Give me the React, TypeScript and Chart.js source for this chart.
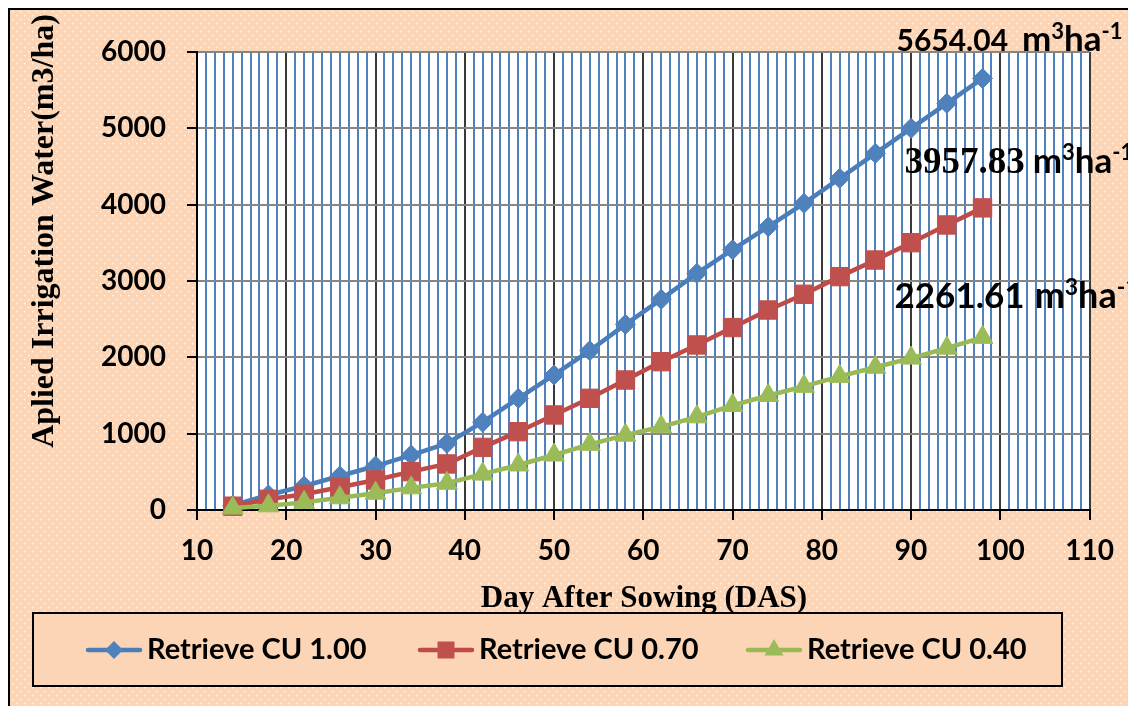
import React, { useEffect, useRef } from 'react';
import { Chart, registerables } from 'chart.js';

Chart.register(...registerables);

// ---- data ----
const days = [14, 18, 22, 26, 30, 34, 38, 42, 46, 50, 54, 58, 62, 66, 70, 74, 78, 82, 86, 90, 94, 98];
const cu100 = [60, 197, 314, 445, 576, 720, 873, 1150, 1463, 1769, 2087, 2432, 2760, 3100, 3410, 3711, 4018, 4345, 4673, 5000, 5328, 5654.04];
const cu070 = [50, 140, 206, 297, 393, 502, 603, 820, 1026, 1245, 1463, 1703, 1943, 2162, 2390, 2620, 2826, 3057, 3275, 3502, 3734, 3957.83];
const cu040 = [25, 55, 100, 160, 220, 290, 350, 470, 590, 720, 860, 980, 1090, 1220, 1370, 1500, 1620, 1750, 1870, 1990, 2120, 2261.61];
const seriesLabels = ['Retrieve CU 1.00', 'Retrieve CU 0.70', 'Retrieve CU 0.40'];
const finalLabels = ['5654.04', '3957.83', '2261.61'];
const xTitle = 'Day After Sowing (DAS)';
const yTitle = 'Aplied Irrigation Water(m3/ha)';

const PEACH = '#FBD5B5';
const SANS = 'Lato, "Open Sans", sans-serif';
const SERIF = '"Liberation Serif", "Times New Roman", serif';

const bgPlugin = {
  id: 'bgPattern',
  beforeDraw(chart: any) {
    const { ctx, width, height, chartArea: a } = chart;
    ctx.save();
    ctx.fillStyle = PEACH;
    ctx.fillRect(0, 0, width, height);
    ctx.fillStyle = 'rgba(255,255,255,0.9)';
    for (let y = 0, r = 0; y < height; y += 4, r++) {
      const off = r % 2 ? 4 : 0;
      for (let x = off; x < width; x += 8) ctx.fillRect(x + 2, y + 1, 1.4, 1.4);
    }
    ctx.fillStyle = '#ffffff';
    ctx.fillRect(a.left, a.top, a.right - a.left, a.bottom - a.top);
    ctx.restore();
  },
};

function drawMarker(ctx: any, style: string, x: number, y: number, r: number, color: string) {
  ctx.fillStyle = color;
  ctx.beginPath();
  if (style === 'rectRot') {
    ctx.moveTo(x, y - r); ctx.lineTo(x + r, y); ctx.lineTo(x, y + r); ctx.lineTo(x - r, y);
  } else if (style === 'rect') {
    const s = r * Math.SQRT1_2;
    ctx.rect(x - s, y - s, 2 * s, 2 * s);
  } else {
    const h = r * Math.sqrt(3) / 2;
    ctx.moveTo(x, y - r); ctx.lineTo(x + h, y + r / 2); ctx.lineTo(x - h, y + r / 2);
  }
  ctx.closePath();
  ctx.fill();
}

function drawValueLabel(ctx: any, x: number, y: number, num: string, numFont: string, numSize: number, unitSize: number, gap: number) {
  ctx.fillStyle = '#000';
  ctx.textAlign = 'left';
  ctx.textBaseline = 'alphabetic';
  ctx.font = `bold ${numSize}px ${numFont}`;
  ctx.fillText(num, x, y);
  let cx = x + ctx.measureText(num).width + gap;
  const small = Math.round(unitSize * 0.64);
  const raise = unitSize * 0.36;
  ctx.font = `bold ${unitSize}px ${SANS}`;
  ctx.fillText('m', cx, y); cx += ctx.measureText('m').width;
  ctx.font = `bold ${small}px ${SANS}`;
  ctx.fillText('3', cx, y - raise); cx += ctx.measureText('3').width;
  ctx.font = `bold ${unitSize}px ${SANS}`;
  ctx.fillText('ha', cx, y); cx += ctx.measureText('ha').width;
  ctx.font = `bold ${small}px ${SANS}`;
  ctx.fillText('-1', cx, y - raise);
}

const annotPlugin = {
  id: 'annotations',
  afterDatasetsDraw(chart: any) {
    const { ctx } = chart;
    const xs = chart.scales.x;
    const ys = chart.scales.y;
    const last = days.length - 1;
    const px = xs.getPixelForValue(days[last]);
    ctx.save();
    drawValueLabel(ctx, px - 86, ys.getPixelForValue(cu100[last]) - 27, finalLabels[0], SANS, 30, 35, 14);
    drawValueLabel(ctx, px - 78, ys.getPixelForValue(cu070[last]) - 35, finalLabels[1], SERIF, 37, 35, 8);
    drawValueLabel(ctx, px - 88, ys.getPixelForValue(cu040[last]) - 29, finalLabels[2], SANS, 35, 36, 10);
    ctx.restore();
  },
  afterDraw(chart: any) {
    const { ctx } = chart;
    ctx.save();
    // axis titles
    ctx.fillStyle = '#000';
    ctx.font = `bold 31px ${SERIF}`;
    ctx.textAlign = 'center';
    ctx.textBaseline = 'alphabetic';
    ctx.fillText(xTitle, 634, 597);
    ctx.translate(35, 221);
    ctx.rotate(-Math.PI / 2);
    ctx.textBaseline = 'middle';
    ctx.font = `bold 32px ${SERIF}`;
    ctx.fillText(yTitle, 0, 0);
    ctx.setTransform(1, 0, 0, 1, 0, 0);
    ctx.restore();

    // legend
    ctx.save();
    const bx = 23, by = 603, bw = 1029, bh = 73;
    ctx.fillStyle = PEACH;
    ctx.fillRect(bx, by, bw, bh);
    ctx.strokeStyle = '#000';
    ctx.lineWidth = 2;
    ctx.strokeRect(bx, by, bw, bh);
    const itemX = [78, 410, 738];
    const cy = by + bh / 2 + 0.5;
    chart.data.datasets.forEach((ds: any, i: number) => {
      const x0 = itemX[i];
      ctx.strokeStyle = ds.borderColor;
      ctx.lineWidth = 4.5;
      ctx.lineCap = 'round';
      ctx.beginPath();
      ctx.moveTo(x0, cy); ctx.lineTo(x0 + 52, cy);
      ctx.stroke();
      drawMarker(ctx, ds.pointStyle, x0 + 26, cy, ds.pointStyle === 'rect' ? 12 : ds.pointStyle === 'rectRot' ? 9 : 11, ds.pointBackgroundColor);
      ctx.fillStyle = '#000';
      ctx.font = `bold 29px ${SANS}`;
      ctx.textAlign = 'left';
      ctx.textBaseline = 'middle';
      ctx.fillText(ds.label, x0 + 59, cy);
    });
    ctx.restore();
  },
};

export default function App() {
  const ref = useRef<HTMLCanvasElement | null>(null);
  useEffect(() => {
    if (!ref.current) return;
    const mk = (vals: number[]) => days.map((d, i) => ({ x: d, y: vals[i] }));
    const chart = new Chart(ref.current, {
      type: 'line',
      data: {
        datasets: [
          {
            label: seriesLabels[0], data: mk(cu100), borderColor: '#4A7EBB', backgroundColor: '#4F81BD',
            pointBackgroundColor: '#4F81BD', pointBorderColor: '#4F81BD', pointStyle: 'rectRot',
            pointRadius: 10, pointBorderWidth: 1, borderWidth: 4.5, order: 2, clip: false,
          },
          {
            label: seriesLabels[1], data: mk(cu070), borderColor: '#BE4B48', backgroundColor: '#C0504D',
            pointBackgroundColor: '#C0504D', pointBorderColor: '#C0504D', pointStyle: 'rect',
            pointRadius: 13, pointBorderWidth: 1, borderWidth: 4.5, order: 1, clip: false,
          },
          {
            label: seriesLabels[2], data: mk(cu040), borderColor: '#98B954', backgroundColor: '#9BBB59',
            pointBackgroundColor: '#9BBB59', pointBorderColor: '#9BBB59', pointStyle: 'triangle',
            pointRadius: 12, pointBorderWidth: 1, borderWidth: 4.5, order: 0, clip: false,
          },
        ] as any,
      },
      options: {
        animation: false,
        responsive: false,
        maintainAspectRatio: false,
        layout: { padding: { top: 42, right: 36, left: 0, bottom: 0 } },
        plugins: { legend: { display: false }, tooltip: { enabled: false }, title: { display: false } },
        elements: { line: { tension: 0 } },
        scales: {
          x: {
            type: 'linear', min: 10, max: 110,
            afterFit: (s: any) => { s.height = 196; },
            ticks: {
              stepSize: 1, autoSkip: false, maxTicksLimit: 1000, maxRotation: 0, padding: 14,
              color: '#000', font: { family: SANS, size: 28, weight: 'bold' },
              callback: (v: any) => (Number(v) % 10 === 0 ? String(v) : ''),
            },
            grid: {
              color: (c: any) => (c.tick && c.tick.value % 10 === 0 ? '#3a3a3a' : '#4F81BD'),
              lineWidth: 2,
              tickColor: (c: any) => (c.tick && c.tick.value % 10 === 0 ? '#000' : 'rgba(0,0,0,0)'),
              tickLength: 10, tickWidth: 2,
            },
            border: { color: '#000', width: 2 },
          },
          y: {
            type: 'linear', min: 0, max: 6000,
            afterFit: (s: any) => { s.width = 187; },
            ticks: {
              stepSize: 1000, padding: 21, color: '#000',
              font: { family: SANS, size: 28, weight: 'bold' },
              callback: (v: any) => String(v),
            },
            grid: { color: '#868686', lineWidth: 2, tickColor: '#000', tickLength: 10, tickWidth: 2 },
            border: { color: '#000', width: 2 },
          },
        },
      } as any,
      plugins: [bgPlugin, annotPlugin],
    });
    return () => chart.destroy();
  }, []);
  return (
    <div
      style={{
        position: 'fixed', left: 8, top: 8, width: 1120, height: 698,
        borderLeft: '2px solid #000', borderTop: '2px solid #000', boxSizing: 'border-box', overflow: 'hidden',
      }}
    >
      <canvas ref={ref} width={1118} height={696} style={{ display: 'block', width: 1118, height: 696 }} />
    </div>
  );
}
